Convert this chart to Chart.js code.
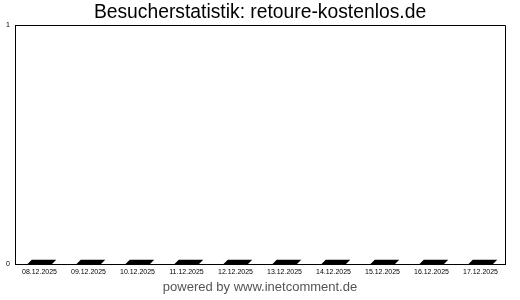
<!DOCTYPE html>
<html>
<head>
<meta charset="utf-8">
<script src="https://cdn.jsdelivr.net/npm/chart.js@4/dist/chart.umd.min.js"></script>
<style>
html,body{margin:0;padding:0;background:#fff;}
#wrap{width:520px;height:300px;}
</style>
</head>
<body>
<div id="wrap"><canvas id="c" width="520" height="300"></canvas></div>
<script>
const chartTitle = "Besucherstatistik: retoure-kostenlos.de";
const footerText = "powered by www.inetcomment.de";
const categories = ["08.12.2025","09.12.2025","10.12.2025","11.12.2025","12.12.2025","13.12.2025","14.12.2025","15.12.2025","16.12.2025","17.12.2025"];
const visitors = [0,0,0,0,0,0,0,0,0,0];
const yTicks = [0,1];

const FONT = "'Liberation Sans', Arial, sans-serif";

const slabPlugin = {
  id: 'slab',
  afterDatasetsDraw(chart) {
    const ctx = chart.ctx;
    const yScale = chart.scales.y;
    const meta = chart.getDatasetMeta(0);
    const depth = 4.5, rise = 4.5;
    ctx.save();
    ctx.fillStyle = '#000';
    meta.data.forEach((bar, i) => {
      const w = bar.width;
      const left = bar.x - w / 2;
      const right = bar.x + w / 2;
      const base = yScale.getPixelForValue(0);
      const top = Math.min(bar.y, base);
      ctx.beginPath();
      ctx.moveTo(left, base);
      ctx.lineTo(right, base);
      ctx.lineTo(right + depth, top - rise);
      ctx.lineTo(left + depth, top - rise);
      ctx.closePath();
      ctx.fill();
    });
    ctx.restore();
  },
  afterDraw(chart) {
    const {ctx, chartArea} = chart;
    ctx.save();
    ctx.strokeStyle = '#000';
    ctx.lineWidth = 1;
    ctx.beginPath();
    ctx.moveTo(Math.round(chartArea.left) + 0.5, Math.round(chartArea.top) + 0.5);
    ctx.lineTo(Math.round(chartArea.right) + 0.5, Math.round(chartArea.top) + 0.5);
    ctx.lineTo(Math.round(chartArea.right) + 0.5, Math.round(chartArea.bottom) + 0.5);
    ctx.stroke();
    ctx.restore();
  }
};

new Chart(document.getElementById('c'), {
  type: 'bar',
  data: {
    labels: categories,
    datasets: [{
      label: 'Besucher',
      data: visitors,
      backgroundColor: '#000',
      borderWidth: 0,
      barPercentage: 0.5,
      categoryPercentage: 1.0
    }]
  },
  options: {
    responsive: false,
    animation: false,
    layout: { padding: { left: 15, right: 15, top: 0, bottom: 0 } },
    plugins: {
      legend: { display: false },
      tooltip: { enabled: false },
      title: {
        display: true,
        text: chartTitle,
        color: '#000',
        font: { family: FONT, size: 19.3, weight: 'normal', lineHeight: 1.25 },
        padding: { top: 1, bottom: 0 }
      },
      subtitle: {
        display: true,
        position: 'bottom',
        text: footerText,
        color: '#555',
        font: { family: FONT, size: 13, weight: 'normal', lineHeight: 0.6 },
        padding: { top: 4, bottom: 9 }
      }
    },
    scales: {
      x: {
        grid: { display: false, drawTicks: false },
        border: { display: true, color: '#000', width: 1 },
        ticks: { color: '#000', font: { family: FONT, size: 7, lineHeight: 1 }, padding: 4, maxRotation: 0, autoSkip: false }
      },
      y: {
        min: 0,
        max: 1,
        afterBuildTicks(scale) { scale.ticks = yTicks.map(v => ({ value: v })); },
        afterFit(scale) { scale.width = 0; },
        grid: { display: false, drawTicks: false },
        border: { display: true, color: '#000', width: 1 },
        ticks: { color: '#000', font: { family: FONT, size: 7 }, mirror: true, crossAlign: 'far', padding: -9 }
      }
    }
  },
  plugins: [slabPlugin]
});
</script>
</body>
</html>
